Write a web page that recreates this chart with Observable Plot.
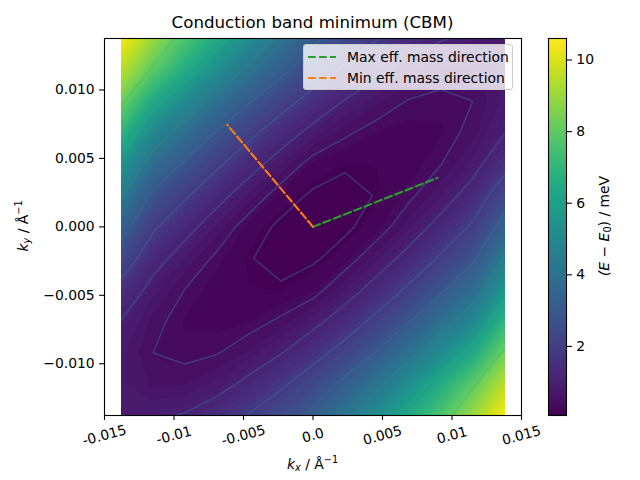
<!DOCTYPE html>
<html>
<head>
<meta charset="utf-8">
<script src="https://cdn.jsdelivr.net/npm/d3@7"></script>
<script src="https://cdn.jsdelivr.net/npm/@observablehq/plot@0.6"></script>
<style>
html,body{margin:0;padding:0;background:#fff;}
#stage{position:relative;width:640px;height:480px;overflow:hidden;font-family:"DejaVu Sans",sans-serif;}
#stage>svg,#stage>figure{position:absolute;left:0;top:0;margin:0;}
#legend{position:absolute;left:303px;top:44px;width:210px;height:46px;box-sizing:border-box;background:rgba(255,255,255,.8);border:1px solid #ccc;border-radius:3px;font-size:13.9px;color:#000;}
#legend div{position:absolute;left:43px;white-space:nowrap;line-height:16px;}
#legend svg{position:absolute;left:4px;top:0;}
</style>
</head>
<body>
<div id="stage"></div>
<script>
// Axis ticks
const xTicks = [-0.015, -0.01, -0.005, 0, 0.005, 0.01, 0.015];
const xTickLabels = ["-0.015", "-0.01", "-0.005", "0.0", "0.005", "0.01", "0.015"];
const yTicks = [-0.01, -0.005, 0, 0.005, 0.01];
const yTickLabels = ["\u22120.010", "\u22120.005", "0.000", "0.005", "0.010"];
const barTicks = [2, 4, 6, 8, 10];

// Energies (meV), one row per ky, top to bottom, 13 values per row
const rowP6 = [10.6, 9.1, 7.75, 6.5, 5.3, 4.2, 3.2, 2.5, 1.95, 1.5, 1.15, 1.0, 0.95];
const rowP5 = [9.6, 8.05, 6.63, 5.34, 4.21, 3.25, 2.42, 1.77, 1.27, 0.86, 0.66, 0.64, 0.85];
const rowP4 = [8.4, 6.49, 5.19, 4.05, 3.07, 2.25, 1.58, 1.07, 0.71, 0.48, 0.41, 0.5, 0.88];
const rowP3 = [7.05, 5.08, 3.94, 2.95, 2.12, 1.43, 0.92, 0.56, 0.36, 0.3, 0.35, 0.6, 1.08];
const rowP2 = [5.7, 3.88, 2.87, 2.04, 1.35, 0.82, 0.34, 0.215, 0.225, 0.28, 0.49, 0.89, 1.6];
const rowP1 = [4.5, 2.85, 2.0, 1.31, 0.78, 0.3, 0.14, 0.09, 0.195, 0.42, 0.81, 1.36, 2.45];
const row00 = [3.42, 2.01, 1.32, 0.77, 0.3, 0.13, 0.07, 0.13, 0.3, 0.77, 1.32, 2.01, 3.42];
const rowM1 = [2.45, 1.36, 0.81, 0.42, 0.195, 0.09, 0.14, 0.3, 0.78, 1.31, 2.0, 2.85, 4.5];
const rowM2 = [1.6, 0.89, 0.49, 0.28, 0.225, 0.215, 0.34, 0.82, 1.35, 2.04, 2.87, 3.88, 5.7];
const rowM3 = [1.08, 0.6, 0.35, 0.3, 0.36, 0.56, 0.92, 1.43, 2.12, 2.95, 3.94, 5.08, 7.05];
const rowM4 = [0.88, 0.5, 0.41, 0.48, 0.71, 1.07, 1.58, 2.25, 3.07, 4.05, 5.19, 6.49, 8.4];
const rowM5 = [0.85, 0.64, 0.66, 0.86, 1.27, 1.77, 2.42, 3.25, 4.21, 5.34, 6.63, 8.05, 9.6];
const rowM6 = [0.95, 1.0, 1.15, 1.5, 1.95, 2.5, 3.2, 4.2, 5.3, 6.5, 7.75, 9.1, 10.6];
const energyRows = [rowP6, rowP5, rowP4, rowP3, rowP2, rowP1, row00, rowM1, rowM2, rowM3, rowM4, rowM5, rowM6];

// Contour line levels and their line colours
const lineLevels = [0.18, 0.5, 1.1, 1.9, 3.0, 4.4, 6.1, 8.2];
const lineColors = ["#3e3f80", "#3f4a8a", "#3c5089", "#3a5a8c", "#33688e", "#2a7f8e", "#25a585", "#4fc46f"];

// Effective mass directions
const maxDirKx = [0, 0.00896];
const maxDirKy = [0, 0.00358];
const minDirKx = [0, -0.00617];
const minDirKy = [0, 0.00746];

const eMin = 0.07, eMax = 10.6, kEdge = 0.0138, kStep = 0.0023;
const cells = energyRows.flat();
const bandLevels = d3.range(eMin, eMax + 0.15, 0.15);
const colorOpts = {type: "linear", scheme: "viridis", domain: [eMin, eMax]};
const font = {fontFamily: "DejaVu Sans", fontSize: "13.9px", background: "transparent", color: "#000"};
// Samples sit at cell centres, so the bounds reach half a step past the outer k values
const field = {width: 13, height: 13, x1: -kEdge - kStep / 2, x2: kEdge + kStep / 2, y1: kEdge + kStep / 2, y2: -kEdge - kStep / 2, blur: 0, smooth: true};
const ln = (xs, ys) => xs.map((x, i) => ({x, y: ys[i]}));
const axisTick = {tickSize: 4.9, tickPadding: 4.9, strokeWidth: 1.1, label: null};

const main = Plot.plot({
  width: 640, height: 480,
  marginLeft: 104, marginRight: 119, marginTop: 38, marginBottom: 65,
  style: font,
  x: {domain: [-0.015, 0.015]},
  y: {domain: [-0.01378, 0.01376]},
  color: colorOpts,
  marks: [
    Plot.contour(cells, {...field, value: Plot.identity, fill: "value", thresholds: bandLevels, stroke: "none", className: "inside"}),
    ...lineLevels.map((level, i) =>
      Plot.contour(cells, {...field, value: Plot.identity, fill: "none", stroke: lineColors[i], strokeWidth: 1.6, strokeOpacity: 0.75, thresholds: [level], className: "inside"})),
    Plot.line(ln(maxDirKx, maxDirKy), {x: "x", y: "y", stroke: "#2ca02c", strokeWidth: 2.08, strokeDasharray: "7.7,3.33"}),
    Plot.line(ln(minDirKx, minDirKy), {x: "x", y: "y", stroke: "#ff7f0e", strokeWidth: 2.08, strokeDasharray: "7.7,3.33"}),
    Plot.frame({stroke: "#000", strokeWidth: 1.1}),
    Plot.axisX({...axisTick, ticks: xTicks, tickFormat: () => ""}),
    Plot.axisY({...axisTick, ticks: yTicks, tickFormat: d => yTickLabels[yTicks.findIndex(t => Math.abs(t - d) < 1e-9)]}),
    Plot.text(xTicks, {x: d => d, text: (d, i) => xTickLabels[i], frameAnchor: "bottom", dy: 20, rotate: -15, textAnchor: "middle", lineAnchor: "middle", fontSize: 13.9, fill: "#000"})
  ]
});

// Trim the contours to the sampled square
{
  const sx = main.scale("x"), sy = main.scale("y");
  const svg = d3.select(main);
  const a = sx.apply(-kEdge), b = sx.apply(kEdge), c = sy.apply(kEdge), d = sy.apply(-kEdge);
  svg.append("defs").append("clipPath").attr("id", "kSquare").append("rect")
    .attr("x", a).attr("y", c).attr("width", b - a).attr("height", d - c);
  svg.selectAll(".inside").attr("clip-path", "url(#kSquare)");
}

const bar = Plot.plot({
  width: 640, height: 480,
  marginLeft: 548, marginRight: 74, marginTop: 38, marginBottom: 65,
  style: font,
  x: {domain: [0, 1], axis: null},
  y: {domain: [eMin, eMax]},
  color: colorOpts,
  marks: [
    Plot.raster({x1: 0, x2: 1, y1: eMin, y2: eMax, pixelSize: 1, fill: (x, y) => y}),
    Plot.frame({stroke: "#000", strokeWidth: 1.1}),
    Plot.axisY({...axisTick, anchor: "right", ticks: barTicks, tickFormat: d => String(d)})
  ]
});

const stage = document.getElementById("stage");
stage.append(main, bar);

// Text with italics, subscripts and superscripts
function label(svg, x, y, rot, size, parts) {
  const t = d3.select(svg).append("text")
    .attr("transform", `translate(${x},${y}) rotate(${rot})`)
    .attr("text-anchor", "middle").attr("dominant-baseline", "middle")
    .attr("font-family", "DejaVu Sans").attr("font-size", size).attr("fill", "#000");
  let shift = 0;
  for (const p of parts) {
    const s = t.append("tspan").text(p.t);
    if (p.i) s.attr("font-style", "italic");
    const want = p.sub ? 3 : p.sup ? -5 : 0;
    if (p.sub || p.sup) s.attr("font-size", size * 0.7);
    if (want !== shift) s.attr("dy", want - shift);
    shift = want;
  }
}
label(main, 312.5, 23, 0, 16.67, [{t: "Conduction band minimum (CBM)"}]);
label(main, 312.5, 465, 0, 13.9, [{t: "k", i: 1}, {t: "x", i: 1, sub: 1}, {t: " / Å"}, {t: "\u22121", sup: 1}]);
label(main, 24, 226, -90, 13.9, [{t: "k", i: 1}, {t: "y", i: 1, sub: 1}, {t: " / Å"}, {t: "\u22121", sup: 1}]);
label(bar, 605, 226, -90, 13.9, [{t: "(E", i: 1}, {t: " \u2212 "}, {t: "E", i: 1}, {t: "0", sub: 1}, {t: ") / meV"}]);

// Legend
const legend = document.createElement("div");
legend.id = "legend";
legend.innerHTML = `<svg width="36" height="46">
<line x1="0" x2="28" y1="12" y2="12" stroke="#2ca02c" stroke-width="2.08" stroke-dasharray="7.7,3.33"/>
<line x1="0" x2="28" y1="33" y2="33" stroke="#ff7f0e" stroke-width="2.08" stroke-dasharray="7.7,3.33"/></svg>
<div style="top:4px">Max eff. mass direction</div><div style="top:25px">Min eff. mass direction</div>`;
stage.append(legend);
</script>
</body>
</html>
